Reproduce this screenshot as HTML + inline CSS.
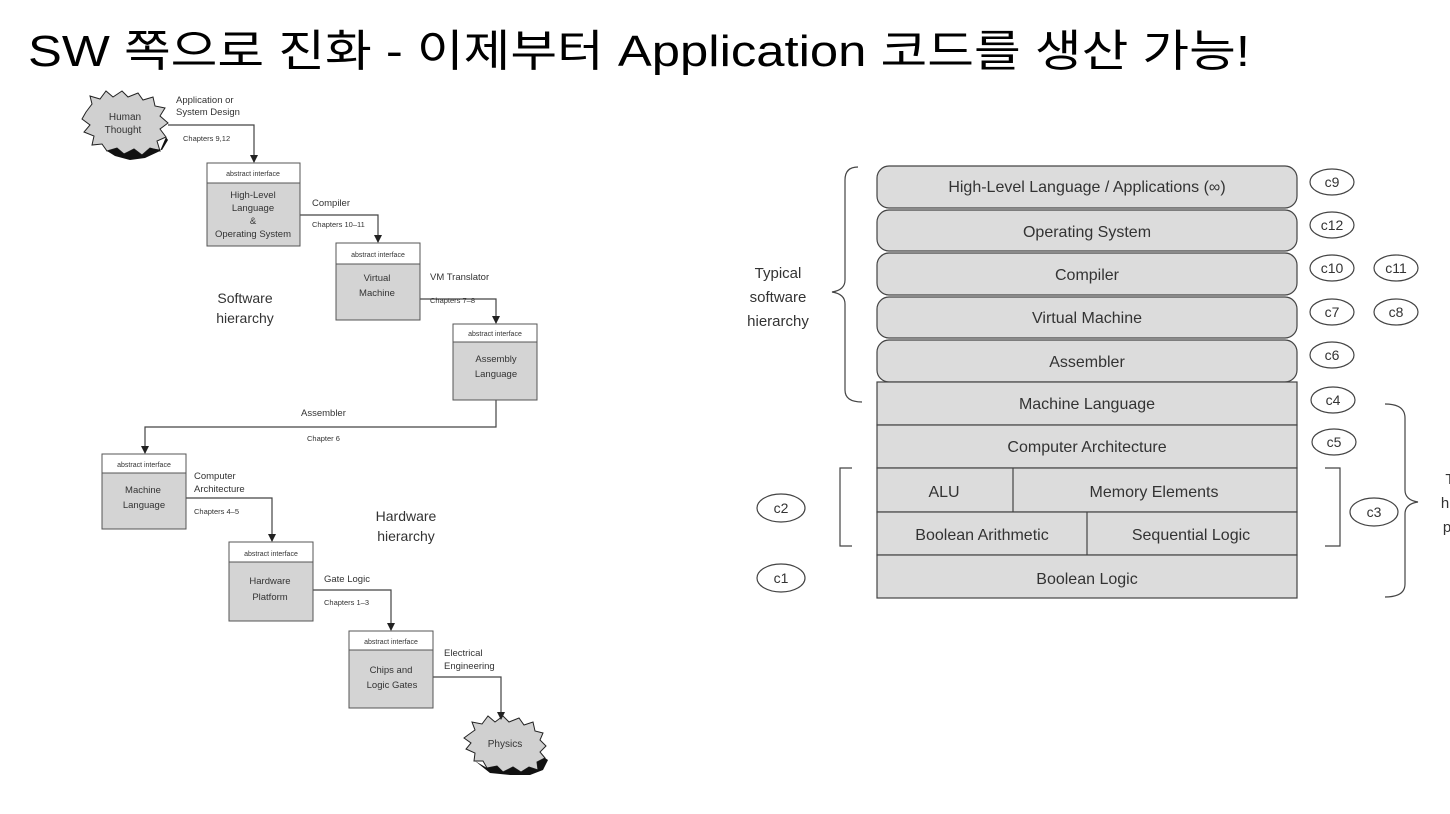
<!DOCTYPE html>
<html><head><meta charset="utf-8"><style>
html,body{margin:0;padding:0;background:#fff;}
body{width:1450px;height:814px;overflow:hidden;position:relative;}
svg{position:absolute;left:0;top:0;}
text{font-family:"Liberation Sans",Arial,sans-serif;fill:#333;}
</style></head><body>
<svg width="1450" height="814" viewBox="0 0 1450 814" xmlns="http://www.w3.org/2000/svg">
<defs><marker id="ah" markerWidth="8" markerHeight="8" refX="7" refY="4" orient="auto" markerUnits="userSpaceOnUse"><path d="M0,0 L8,4 L0,8 z" fill="#222"/></marker></defs>
<text x="28" y="66" textLength="1222" lengthAdjust="spacingAndGlyphs" style="font-family:'Liberation Sans','Noto Sans CJK KR',sans-serif;font-size:44px;fill:#000">SW 쪽으로 진화 - 이제부터 Application 코드를 생산 가능!</text>

<!-- Human Thought star -->
<polygon points="86,112 92,104 90,96 100,99 106,91 113,97 122,91 128,97 138,93 143,100 153,97 155,106 165,108 160,116 168,123 160,129 166,137 157,141 160,151 150,148 142,155 134,149 124,154 117,148 107,151 102,144 92,145 94,136 84,132 90,125 82,119" fill="#d0d0d0" stroke="#222" stroke-width="1"/>
<polygon points="150,148 142,155 134,149 124,154 117,148 107,151 115,156 130,160 145,158 160,151 166,137 168,140 162,150" fill="#111"/>
<text x="125" y="120" font-size="10" text-anchor="middle">Human</text>
<text x="123" y="133" font-size="10" text-anchor="middle">Thought</text>

<!-- Physics star -->
<polygon points="468,735 475,730 472,722 482,724 488,716 495,722 503,716 509,722 519,718 524,725 533,722 535,731 543,733 540,740 546,746 540,752 545,758 537,762 538,770 529,767 521,772 513,767 503,772 497,766 487,768 483,761 474,761 475,753 466,749 471,743 464,738" fill="#d0d0d0" stroke="#222" stroke-width="1"/>
<polygon points="475,761 487,768 497,766 503,772 513,767 521,772 529,767 538,770 537,762 545,758 548,760 543,770 530,775 510,775 490,773" fill="#111"/>
<text x="505" y="747" font-size="10" text-anchor="middle">Physics</text>

<g stroke="#444" stroke-width="1.2" fill="none">
<polyline points="168,125 254,125 254,162" marker-end="url(#ah)"/>
<polyline points="300,215 378,215 378,242" marker-end="url(#ah)"/>
<polyline points="420,299 496,299 496,323" marker-end="url(#ah)"/>
<polyline points="496,400 496,427 145,427 145,453" marker-end="url(#ah)"/>
<polyline points="186,498 272,498 272,541" marker-end="url(#ah)"/>
<polyline points="313,590 391,590 391,630" marker-end="url(#ah)"/>
<polyline points="433,677 501,677 501,719" marker-end="url(#ah)"/>
</g>

<!-- boxes -->
<g stroke="#555" stroke-width="1">
<rect x="207" y="163" width="93" height="83" fill="#d4d4d4"/><rect x="207" y="163" width="93" height="20" fill="#fff"/>
<rect x="336" y="243" width="84" height="77" fill="#d4d4d4"/><rect x="336" y="243" width="84" height="21" fill="#fff"/>
<rect x="453" y="324" width="84" height="76" fill="#d4d4d4"/><rect x="453" y="324" width="84" height="18" fill="#fff"/>
<rect x="102" y="454" width="84" height="75" fill="#d4d4d4"/><rect x="102" y="454" width="84" height="19" fill="#fff"/>
<rect x="229" y="542" width="84" height="79" fill="#d4d4d4"/><rect x="229" y="542" width="84" height="20" fill="#fff"/>
<rect x="349" y="631" width="84" height="77" fill="#d4d4d4"/><rect x="349" y="631" width="84" height="19" fill="#fff"/>
</g>
<g font-size="7" text-anchor="middle">
<text x="253" y="176">abstract interface</text>
<text x="378" y="257">abstract interface</text>
<text x="495" y="336">abstract interface</text>
<text x="144" y="467">abstract interface</text>
<text x="271" y="556">abstract interface</text>
<text x="391" y="644">abstract interface</text>
</g>
<g font-size="9.5" text-anchor="middle">
<text x="253" y="198">High-Level</text><text x="253" y="211">Language</text><text x="253" y="224">&amp;</text><text x="253" y="237">Operating System</text>
<text x="377" y="281">Virtual</text><text x="377" y="296">Machine</text>
<text x="496" y="362">Assembly</text><text x="496" y="377">Language</text>
<text x="143" y="493">Machine</text><text x="144" y="508">Language</text>
<text x="270" y="584">Hardware</text><text x="270" y="600">Platform</text>
<text x="391" y="673">Chips and</text><text x="392" y="688">Logic Gates</text>
</g>
<g font-size="9.5">
<text x="176" y="103">Application or</text><text x="176" y="115">System Design</text>
<text x="312" y="206">Compiler</text>
<text x="430" y="280">VM Translator</text>
<text x="301" y="416" >Assembler</text>
<text x="194" y="479">Computer</text><text x="194" y="492">Architecture</text>
<text x="324" y="582">Gate Logic</text>
<text x="444" y="656">Electrical</text><text x="444" y="669">Engineering</text>
</g>
<g font-size="7.5">
<text x="183" y="141">Chapters 9,12</text>
<text x="312" y="227">Chapters 10–11</text>
<text x="430" y="303">Chapters 7–8</text>
<text x="307" y="441">Chapter 6</text>
<text x="194" y="514">Chapters 4–5</text>
<text x="324" y="605">Chapters 1–3</text>
</g>
<g font-size="14" text-anchor="middle">
<text x="245" y="303">Software</text><text x="245" y="323">hierarchy</text>
<text x="406" y="521">Hardware</text><text x="406" y="541">hierarchy</text>
</g>

<!-- right diagram -->
<g stroke="#444" stroke-width="1.2" fill="#dcdcdc">
<rect x="877" y="166" width="420" height="42" rx="12"/>
<rect x="877" y="210" width="420" height="41" rx="12"/>
<rect x="877" y="253" width="420" height="42" rx="12"/>
<rect x="877" y="297" width="420" height="41" rx="12"/>
<rect x="877" y="340" width="420" height="42" rx="12"/>
<rect x="877" y="382" width="420" height="43"/>
<rect x="877" y="425" width="420" height="43"/>
<rect x="877" y="468" width="420" height="44"/>
<rect x="877" y="512" width="420" height="43"/>
<rect x="877" y="555" width="420" height="43"/>
<line x1="1013" y1="468" x2="1013" y2="512"/>
<line x1="1087" y1="512" x2="1087" y2="555"/>
</g>
<g font-size="16" text-anchor="middle">
<text x="1087" y="192">High-Level Language / Applications (∞)</text>
<text x="1087" y="237">Operating System</text>
<text x="1087" y="280">Compiler</text>
<text x="1087" y="323">Virtual Machine</text>
<text x="1087" y="367">Assembler</text>
<text x="1087" y="409">Machine Language</text>
<text x="1087" y="452">Computer Architecture</text>
<text x="944" y="497">ALU</text>
<text x="1154" y="497">Memory Elements</text>
<text x="982" y="540">Boolean Arithmetic</text>
<text x="1191" y="540">Sequential Logic</text>
<text x="1087" y="584">Boolean Logic</text>
</g>
<g stroke="#444" stroke-width="1.2" fill="none">
<ellipse cx="1332" cy="182" rx="22" ry="13"/>
<ellipse cx="1332" cy="225" rx="22" ry="13"/>
<ellipse cx="1332" cy="268" rx="22" ry="13"/>
<ellipse cx="1396" cy="268" rx="22" ry="13"/>
<ellipse cx="1332" cy="312" rx="22" ry="13"/>
<ellipse cx="1396" cy="312" rx="22" ry="13"/>
<ellipse cx="1332" cy="355" rx="22" ry="13"/>
<ellipse cx="1333" cy="400" rx="22" ry="13"/>
<ellipse cx="1334" cy="442" rx="22" ry="13"/>
<ellipse cx="1374" cy="512" rx="24" ry="14"/>
<ellipse cx="781" cy="508" rx="24" ry="14"/>
<ellipse cx="781" cy="578" rx="24" ry="14"/>
<path d="M858,167 Q845,167 845,180 L845,280 Q845,290 832,292 Q845,294 845,304 L845,390 Q845,402 862,402"/>
<path d="M1385,404 Q1405,404 1405,418 L1405,490 Q1405,500 1418,502 Q1405,504 1405,514 L1405,584 Q1405,597 1385,597"/>
<polyline points="852,468 840,468 840,546 852,546"/>
<polyline points="1325,468 1340,468 1340,546 1325,546"/>
</g>
<g font-size="14" text-anchor="middle">
<text x="1332" y="187">c9</text><text x="1332" y="230">c12</text>
<text x="1332" y="273">c10</text><text x="1396" y="273">c11</text>
<text x="1332" y="317">c7</text><text x="1396" y="317">c8</text>
<text x="1332" y="360">c6</text><text x="1333" y="405">c4</text><text x="1334" y="447">c5</text>
<text x="1374" y="517">c3</text><text x="781" y="513">c2</text><text x="781" y="583">c1</text>
</g>
<g font-size="15" text-anchor="middle">
<text x="778" y="278">Typical</text><text x="778" y="302">software</text><text x="778" y="326">hierarchy</text>
<text x="1450" y="484">T</text><text x="1445" y="508">h</text><text x="1447" y="532">p</text>
</g>
</svg>
</body></html>
